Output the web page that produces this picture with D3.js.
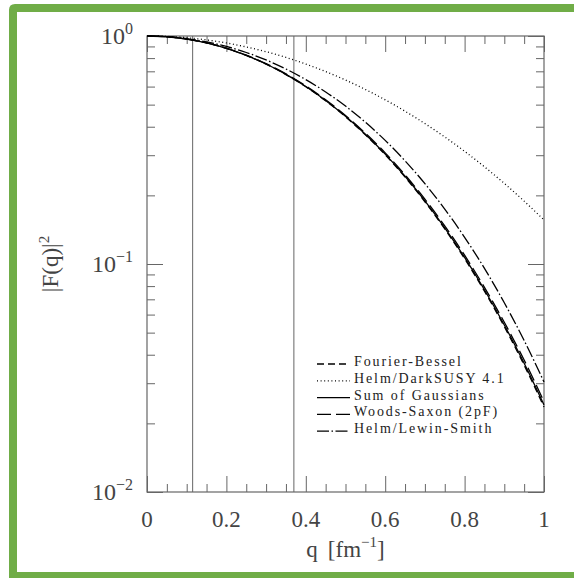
<!DOCTYPE html>
<html>
<head>
<meta charset="utf-8">
<script src="https://cdn.jsdelivr.net/npm/d3@7"></script>
<style>
  body { margin: 0; background: #fff; overflow: hidden; }
  #plot { width: 574px; height: 578px; }
  svg { display: block; }
</style>
</head>
<body>
<div id="plot"></div>
<script>
// momentum transfer grid, fm^-1
const qValues = [0, 0.05, 0.10, 0.15, 0.20, 0.25, 0.30, 0.35, 0.40, 0.45, 0.50,
                 0.55, 0.60, 0.65, 0.70, 0.75, 0.80, 0.85, 0.90, 0.95, 1.00];

// |F(q)|^2
const fourierBessel  = [1, 0.9923, 0.9694, 0.9323, 0.8824, 0.8217, 0.7524, 0.6773, 0.5988, 0.5197, 0.4422,
                        0.3689, 0.3012, 0.2405, 0.1874, 0.1425, 0.1055, 0.0760, 0.0531, 0.0360, 0.0236];
const helmDarkSusy   = [1, 0.9956, 0.9826, 0.9613, 0.9321, 0.8958, 0.8533, 0.8055, 0.7533, 0.6982, 0.6409,
                        0.5828, 0.5248, 0.4680, 0.4130, 0.3608, 0.3120, 0.2668, 0.2257, 0.1887, 0.1560];
const sumGaussians   = [1, 0.9923, 0.9696, 0.9327, 0.8831, 0.8227, 0.7538, 0.6790, 0.6007, 0.5218, 0.4444,
                        0.3711, 0.3034, 0.2425, 0.1893, 0.1441, 0.1069, 0.0771, 0.0540, 0.0367, 0.0241];
const woodsSaxon     = [1, 0.9924, 0.9699, 0.9334, 0.8843, 0.8245, 0.7562, 0.6819, 0.6041, 0.5255, 0.4483,
                        0.3750, 0.3072, 0.2461, 0.1925, 0.1469, 0.1093, 0.0790, 0.0555, 0.0379, 0.0249];
const helmLewinSmith = [1, 0.9935, 0.9741, 0.9425, 0.8995, 0.8465, 0.7850, 0.7167, 0.6438, 0.5684, 0.4927,
                        0.4187, 0.3484, 0.2835, 0.2251, 0.1741, 0.1310, 0.0957, 0.0676, 0.0462, 0.0304];

const seriesNames = ["Fourier-Bessel", "Helm/DarkSUSY 4.1", "Sum of Gaussians",
                     "Woods-Saxon (2pF)", "Helm/Lewin-Smith"];

const xTickLabels = ["0", "0.2", "0.4", "0.6", "0.8", "1"];
const yExponents = ["0", "\u22121", "\u22122"];
const markerQ = [0.115, 0.37];

// dash style per series
const dashes = ["7,4", "1,2.6", null, "14,5", "12,2.5,1.5,2.5"];
const seriesValues = [fourierBessel, helmDarkSusy, sumGaussians, woodsSaxon, helmLewinSmith];

const W = 574, H = 578;
const margin = {top: 36, right: 30, bottom: 86, left: 147};

const svg = d3.select("#plot")
    .append("svg")
    .attr("width", W)
    .attr("height", H);

// green frame (left, top, bottom edges; right side runs off the picture)
svg.append("path")
    .attr("d", `M ${W} 8 L 15 8 Q 13 8 13 10 L 13 576 L ${W} 576`)
    .attr("fill", "none")
    .attr("stroke", "#70ad47")
    .attr("stroke-width", 8);

const x = d3.scaleLinear()
    .domain([0, 1])
    .range([margin.left, W - margin.right]);

const y = d3.scaleLog()
    .domain([0.01, 1])
    .range([H - margin.bottom, margin.top]);

const axisColor = "#666";

// tick marks on all four sides, pointing inwards
function ticks(axisFn, scale, values, size, transform) {
    const g = svg.append("g")
        .attr("transform", transform)
        .call(axisFn(scale).tickValues(values).tickSize(size).tickFormat(""));
    g.select(".domain").remove();
    g.selectAll("line").attr("stroke", axisColor).attr("stroke-width", 1);
}

const xMinor = x.ticks(20).filter(d => Math.abs(d * 5 - Math.round(d * 5)) > 1e-6);
const xMajor = x.ticks(5);
const yAll = y.ticks();
const yMajor = yAll.filter(d => Math.abs(Math.log10(d) - Math.round(Math.log10(d))) < 1e-6);
const yMinor = yAll.filter(d => yMajor.indexOf(d) < 0);

ticks(d3.axisBottom, x, xMinor, -8, `translate(0,${y(0.01)})`);
ticks(d3.axisBottom, x, xMajor, -16, `translate(0,${y(0.01)})`);
ticks(d3.axisTop, x, xMinor, -8, `translate(0,${y(1)})`);
ticks(d3.axisTop, x, xMajor, -16, `translate(0,${y(1)})`);
ticks(d3.axisLeft, y, yMinor, -8, `translate(${x(0)},0)`);
ticks(d3.axisLeft, y, yMajor, -16, `translate(${x(0)},0)`);
ticks(d3.axisRight, y, yMinor, -8, `translate(${x(1)},0)`);
ticks(d3.axisRight, y, yMajor, -16, `translate(${x(1)},0)`);

// plot frame
svg.append("rect")
    .attr("x", x(0)).attr("y", y(1))
    .attr("width", x(1) - x(0)).attr("height", y(0.01) - y(1))
    .attr("fill", "none")
    .attr("stroke", axisColor)
    .attr("stroke-width", 1.2);

// vertical marker lines
svg.append("g")
    .selectAll("line")
    .data(markerQ)
    .enter()
    .append("line")
    .attr("x1", d => x(d)).attr("x2", d => x(d))
    .attr("y1", y(1)).attr("y2", y(0.01))
    .attr("stroke", axisColor)
    .attr("stroke-width", 1);

// curves
const line = d3.line()
    .x((d, i) => x(qValues[i]))
    .y(d => y(d))
    .curve(d3.curveMonotoneX);

svg.append("g")
    .selectAll("path")
    .data(seriesValues)
    .enter()
    .append("path")
    .attr("fill", "none")
    .attr("stroke", "#000")
    .attr("stroke-width", 1.3)
    .attr("stroke-dasharray", (d, i) => dashes[i])
    .attr("d", line);

// tick labels
const labelFont = "'Liberation Serif', 'DejaVu Serif', serif";
const labelColor = "#444";

svg.append("g")
    .selectAll("text")
    .data(xMajor)
    .enter()
    .append("text")
    .attr("x", d => x(d))
    .attr("y", y(0.01) + 35)
    .attr("text-anchor", "middle")
    .attr("font-family", labelFont)
    .attr("font-size", 23)
    .attr("fill", labelColor)
    .text((d, i) => xTickLabels[i]);

const yLab = svg.append("g")
    .selectAll("text")
    .data(yMajor.slice().reverse())
    .enter()
    .append("text")
    .attr("x", x(0) - 14)
    .attr("y", d => y(d) + 8)
    .attr("text-anchor", "end")
    .attr("font-family", labelFont)
    .attr("font-size", 24)
    .attr("fill", labelColor);
yLab.append("tspan").text("10");
yLab.append("tspan")
    .attr("dy", -10)
    .attr("font-size", 16)
    .text((d, i) => yExponents[i]);

// axis titles
const xTitle = svg.append("text")
    .attr("x", (x(0) + x(1)) / 2)
    .attr("y", 557)
    .attr("text-anchor", "middle")
    .attr("font-family", labelFont)
    .attr("font-size", 23)
    .attr("fill", labelColor);
xTitle.append("tspan").text("q");
xTitle.append("tspan").attr("dx", 10).text("[fm");
xTitle.append("tspan").attr("dy", -10).attr("font-size", 15).text("\u22121");
xTitle.append("tspan").attr("dy", 10).text("]");

const yTitle = svg.append("text")
    .attr("transform", `translate(58,${y(0.1)}) rotate(-90)`)
    .attr("text-anchor", "middle")
    .attr("font-family", labelFont)
    .attr("font-size", 23)
    .attr("fill", labelColor);
yTitle.append("tspan").text("|F(q)|");
yTitle.append("tspan").attr("dy", -9).attr("font-size", 15).text("2");

// legend
const legendX = 317, legendY = 361, legendStep = 16.8;
const legend = svg.append("g")
    .selectAll("g")
    .data(seriesNames)
    .enter()
    .append("g")
    .attr("transform", (d, i) => `translate(${legendX},${legendY + i * legendStep})`);

legend.append("line")
    .attr("x1", 0).attr("x2", 33)
    .attr("y1", 3).attr("y2", 3)
    .attr("stroke", "#000")
    .attr("stroke-width", 1.3)
    .attr("stroke-dasharray", (d, i) => dashes[i]);

legend.append("text")
    .attr("x", 37)
    .attr("y", 5)
    .attr("font-family", labelFont)
    .attr("font-size", 14)
    .attr("letter-spacing", 1.9)
    .attr("fill", "#222")
    .text(d => d);
</script>
</body>
</html>
